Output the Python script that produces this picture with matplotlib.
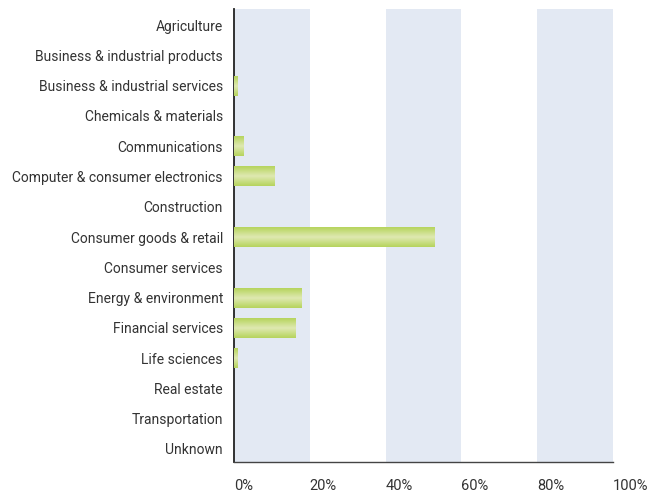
"""Share of deals by sector, horizontal bar chart."""

import matplotlib

matplotlib.use("Agg")
import matplotlib.pyplot as plt
import numpy as np
from matplotlib.colors import LinearSegmentedColormap

sectors = [
    "Agriculture",
    "Business & industrial products",
    "Business & industrial services",
    "Chemicals & materials",
    "Communications",
    "Computer & consumer electronics",
    "Construction",
    "Consumer goods & retail",
    "Consumer services",
    "Energy & environment",
    "Financial services",
    "Life sciences",
    "Real estate",
    "Transportation",
    "Unknown",
]
shares = [0.0, 0.0, 1.0, 0.0, 2.6, 10.6, 0.0, 52.8, 0.0, 17.9, 16.1, 0.8, 0.0, 0.0, 0.0]
ticks = [0, 20, 40, 60, 80, 100]
tick_labels = ["0%", "20%", "40%", "60%", "80%", "100%"]

plt.rcParams["font.family"] = ["Roboto", "DejaVu Sans"]
text_color = "#333333"

figure = plt.figure(figsize=(6.65, 4.95), dpi=100)
axis = figure.add_axes([234 / 665, 1 - 462 / 495, (613 - 234) / 665, (462 - 9) / 495])

# alternating shaded bands
for start in ticks[:-1:2]:
    axis.axvspan(start, start + 20, color="#e3e9f3", lw=0, zorder=0)

positions = np.arange(len(sectors))
bar_height = 0.66
bars = axis.barh(positions, shares, height=bar_height, color="#bdd66a", lw=0, zorder=2)

# lighter stripe through the middle of each bar
gradient_map = LinearSegmentedColormap.from_list(
    "bar", ["#b6d45c", "#dfe9b2", "#b6d45c"]
)
gradient = np.linspace(0, 1, 64).reshape(-1, 1)
for bar in bars:
    if bar.get_width() <= 0:
        continue
    x0, y0 = bar.get_x(), bar.get_y()
    axis.imshow(
        gradient,
        cmap=gradient_map,
        aspect="auto",
        extent=(x0, x0 + bar.get_width(), y0 + bar.get_height(), y0),
        zorder=3,
        interpolation="bicubic",
    )

axis.set_xlim(0, 100)
axis.set_ylim(len(sectors) - 1 + 0.43, -0.53)
axis.set_yticks(positions)
axis.set_yticklabels(sectors, fontsize=10, color=text_color)
axis.set_xticks(ticks)
axis.set_xticklabels(tick_labels, fontsize=10.5, color=text_color, ha="left")
axis.tick_params(axis="both", length=0)
axis.tick_params(axis="y", pad=8)
axis.tick_params(axis="x", pad=12)

for side in ("top", "right"):
    axis.spines[side].set_visible(False)
axis.spines["left"].set_color("#222222")
axis.spines["left"].set_linewidth(1.3)
axis.spines["bottom"].set_color("#444444")
axis.spines["bottom"].set_linewidth(1.0)
axis.set_facecolor("white")

figure.savefig("out.png", dpi=100)
plt.close(figure)
